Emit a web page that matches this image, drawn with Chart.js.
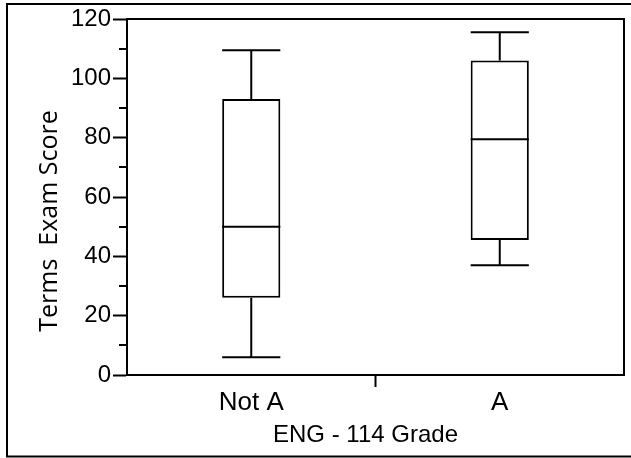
<!DOCTYPE html>
<html>
<head>
<meta charset="utf-8">
<script src="https://cdn.jsdelivr.net/npm/chart.js@4"></script>
<style>
  html, body { margin: 0; padding: 0; background: #fff; }
  #wrap { width: 631px; height: 458px; }
</style>
</head>
<body>
<div id="wrap"><canvas id="box-chart" width="631" height="458"></canvas></div>
<script>
// values
const grades = ['Not A', 'A'];
const lowWhisker = [6, 37];
const lowerQuartile = [26, 45.5];
const medians = [50, 79.5];
const upperQuartile = [93, 106];
const highWhisker = [109.5, 115.5];
const yTicks = [0, 20, 40, 60, 80, 100, 120];
const yTitle = 'Terms  Exam Score';

const boxes = grades.map((g, i) => [lowerQuartile[i], upperQuartile[i]]);

// whiskers, medians, minor ticks, y title, frame
const boxPlotExtras = {
  id: 'boxPlotExtras',
  beforeDraw(chart) {
    const ctx = chart.ctx;
    ctx.save();
    ctx.fillStyle = '#fff';
    ctx.fillRect(0, 0, chart.width, chart.height);
    ctx.restore();
  },
  afterDraw(chart) {
    const ctx = chart.ctx;
    const x = chart.scales.x, y = chart.scales.y;
    const area = chart.chartArea;
    const bars = chart.getDatasetMeta(0).data;
    ctx.save();
    ctx.strokeStyle = '#000';
    ctx.lineWidth = 2;

    bars.forEach((bar, i) => {
      let cx = x.getPixelForValue(i);
      let half = bar.width / 2;
      let line = (x1, y1, x2, y2) => {
        ctx.beginPath(); ctx.moveTo(x1, y1); ctx.lineTo(x2, y2); ctx.stroke();
      };
      line(cx - half, y.getPixelForValue(medians[i]), cx + half, y.getPixelForValue(medians[i]));
      line(cx, y.getPixelForValue(upperQuartile[i]), cx, y.getPixelForValue(highWhisker[i]));
      line(cx, y.getPixelForValue(lowerQuartile[i]), cx, y.getPixelForValue(lowWhisker[i]));
      line(cx - half, y.getPixelForValue(highWhisker[i]), cx + half, y.getPixelForValue(highWhisker[i]));
      line(cx - half, y.getPixelForValue(lowWhisker[i]), cx + half, y.getPixelForValue(lowWhisker[i]));
    });

    // minor ticks at the odd tens
    for (let v = 10; v < 120; v += 20) {
      let py = Math.round(y.getPixelForValue(v));
      ctx.beginPath(); ctx.moveTo(area.left - 8, py); ctx.lineTo(area.left, py); ctx.stroke();
    }

    // top and right of the plot box
    ctx.beginPath();
    ctx.moveTo(area.left, area.top);
    ctx.lineTo(area.right, area.top);
    ctx.lineTo(area.right, area.bottom);
    ctx.stroke();

    // y title sits a bit low in the original, so it is drawn here
    ctx.translate(57, 221);
    ctx.rotate(-Math.PI / 2);
    ctx.fillStyle = '#000';
    ctx.font = '25px "Open Sans"';
    ctx.textAlign = 'center';
    ctx.textBaseline = 'alphabetic';
    ctx.fillText(yTitle, 0, 0);
    ctx.setTransform(1, 0, 0, 1, 0, 0);

    // outer frame
    ctx.strokeRect(7, 4, 660, 452.5);
    ctx.restore();
  }
};

new Chart(document.getElementById('box-chart'), {
  type: 'bar',
  data: {
    labels: grades,
    datasets: [{
      data: boxes,
      backgroundColor: '#fff',
      borderColor: '#000',
      borderWidth: 2,
      borderSkipped: false,
      barPercentage: 0.234,
      categoryPercentage: 1
    }]
  },
  options: {
    responsive: false,
    animation: false,
    events: [],
    layout: { padding: { left: 0, top: 19, right: 7, bottom: 0 } },
    plugins: { legend: { display: false }, tooltip: { enabled: false } },
    scales: {
      x: {
        offset: true,
        afterFit(scale) { scale.height = 83; },
        border: { color: '#000', width: 2 },
        grid: {
          offset: true,
          drawOnChartArea: false,
          tickLength: 12,
          tickWidth: 2,
          tickColor: (c) => c.index === 1 ? '#000' : 'rgba(0,0,0,0)'
        },
        ticks: {
          color: '#000',
          padding: 0,
          font: { family: 'Liberation Sans', size: 26 }
        },
        title: {
          display: true,
          text: 'ENG - 114 Grade   ',
          color: '#000',
          padding: { top: 0, bottom: 8 },
          font: { family: 'Liberation Sans', size: 24 }
        }
      },
      y: {
        min: 0,
        max: 120,
        afterFit(scale) { scale.width = 127; },
        border: { color: '#000', width: 2 },
        grid: {
          drawOnChartArea: false,
          tickLength: 14,
          tickWidth: 2,
          tickColor: '#000'
        },
        afterBuildTicks(scale) {
          scale.ticks = yTicks.map(v => ({ value: v }));
        },
        ticks: {
          color: '#000',
          padding: 2,
          font: { family: 'Liberation Sans', size: 24 }
        }
      }
    }
  },
  plugins: [boxPlotExtras]
});
</script>
</body>
</html>
